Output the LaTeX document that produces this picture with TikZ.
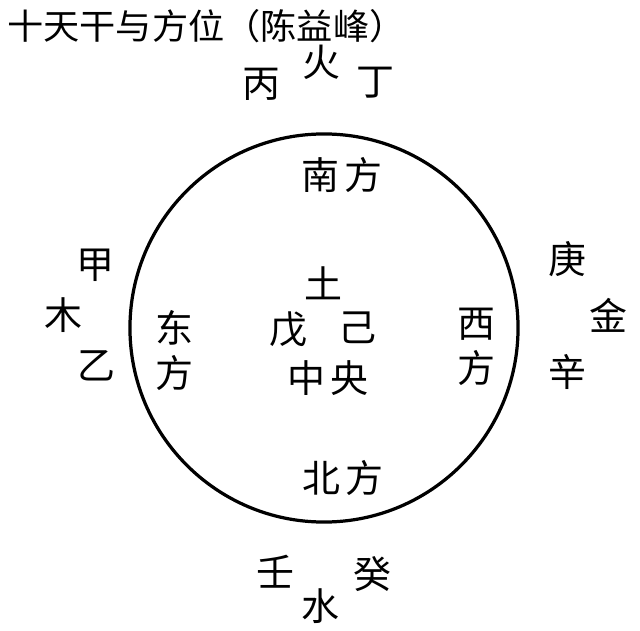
\documentclass[tikz,border=0pt]{standalone}
\usepackage{fontspec}
\newfontfamily\cjk{Noto Sans CJK SC}
\tikzset{
  zi/.style={font=\cjk\fontsize{27}{32}\selectfont,inner sep=0pt,align=center},
  biaoti/.style={font=\cjk\fontsize{25}{25}\selectfont,inner sep=0pt,anchor=west,xscale=1.03}
}
\begin{document}
\begin{tikzpicture}[x=0.025cm,y=-0.025cm]
 \useasboundingbox (0,0) rectangle (640,631);
 \node[biaoti] (title) at (7,26) {十天干与方位（陈益峰）};
 \draw[line width=2.3pt] (324,328) circle (4.85cm);
 % south (fire)
 \node[zi] (huo) at (321,62) {火};
 \node[zi] (bing) at (261,84) {丙};
 \node[zi] (ding) at (375,83) {丁};
 \node[zi] (nanfang) at (342,175) {南\kern3pt方};
 % east (wood)
 \node[zi] (jia) at (95,265) {甲};
 \node[zi] (mu) at (63,315) {木};
 \node[zi] (yi) at (96,366) {乙};
 \node[zi] (dongfang) at (174,350) {东\\方};
 % centre (earth)
 \node[zi] (tu) at (323,283) {土};
 \node[zi] (wu) at (288,329) {戊};
 \node[zi] (ji) at (357,328) {己};
 \node[zi] (zhongyang) at (328,378) {中\kern4pt央};
 % west (metal)
 \node[zi] (xifang) at (476,347) {西\\方};
 \node[zi] (geng) at (567,259) {庚};
 \node[zi] (jin) at (608,315) {金};
 \node[zi] (xin) at (567,372) {辛};
 % north (water)
 \node[zi] (beifang) at (343,478) {北\kern3pt方};
 \node[zi] (ren) at (275,572) {壬};
 \node[zi] (shui) at (320,606) {水};
 \node[zi] (gui) at (372,574) {癸};
\end{tikzpicture}
\end{document}
